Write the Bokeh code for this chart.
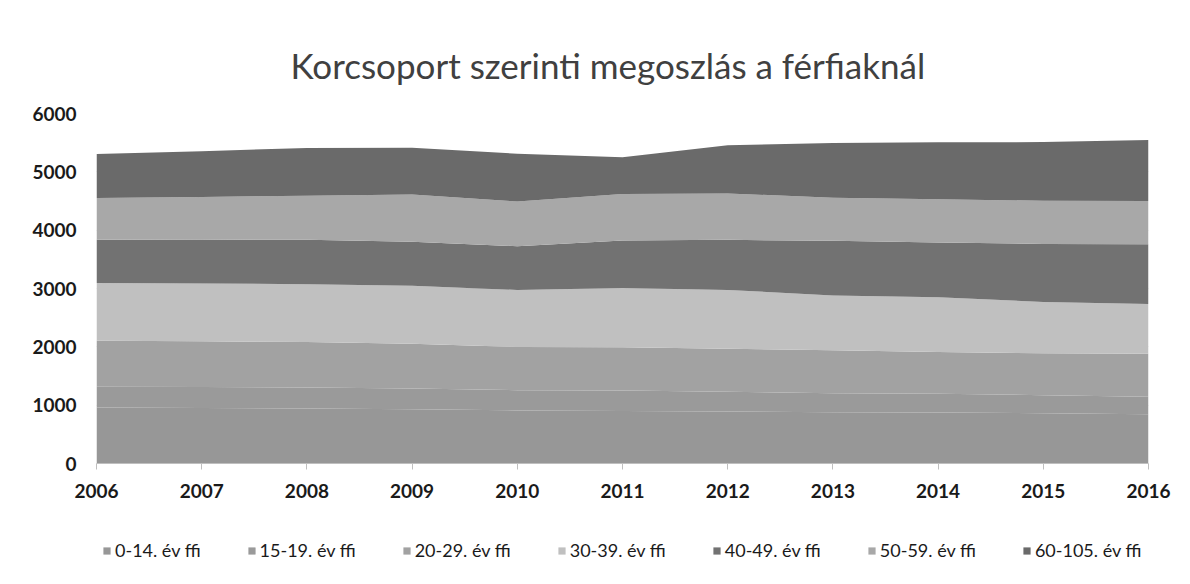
from bokeh.plotting import figure
from bokeh.layouts import column
from bokeh.models import ColumnDataSource, Legend, LegendItem, FixedTicker, Range1d, Label
from bokeh.embed import file_html
from bokeh.resources import INLINE

years = [2006, 2007, 2008, 2009, 2010, 2011, 2012, 2013, 2014, 2015, 2016]
y_ticks = [0, 1000, 2000, 3000, 4000, 5000, 6000]

title_text = "Korcsoport szerinti megoszlás a férfiaknál"
series_names = ["0-14. év ffi", "15-19. év ffi", "20-29. év ffi", "30-39. év ffi",
                "40-49. év ffi", "50-59. év ffi", "60-105. év ffi"]

age_0_14 = [960, 950, 945, 930, 910, 900, 890, 878, 875, 860, 845]
age_15_19 = [354, 360, 360, 355, 347, 350, 339, 327, 320, 312, 298]
age_20_29 = [791, 785, 777, 770, 740, 745, 739, 735, 716, 718, 739]
age_30_39 = [990, 990, 993, 994, 978, 1015, 1007, 940, 939, 880, 853]
age_40_49 = [740, 755, 760, 751, 750, 815, 860, 937, 940, 995, 1025]
age_50_59 = [715, 730, 755, 813, 765, 795, 795, 739, 738, 740, 740]
age_60_105 = [755, 785, 820, 802, 820, 630, 825, 939, 979, 1005, 1045]

colors = ["#979797", "#9a9a9a", "#a2a2a2", "#c0c0c0", "#727272", "#a8a8a8", "#6a6a6a"]

keys = ["a0", "a1", "a2", "a3", "a4", "a5", "a6"]
data = {"year": years}
for k, vals in zip(keys, [age_0_14, age_15_19, age_20_29, age_30_39,
                          age_40_49, age_50_59, age_60_105]):
    data[k] = vals
src = ColumnDataSource(data)

# ---------------- title strip ----------------
pt = figure(width=1190, height=100, x_range=Range1d(96, 1148), y_range=Range1d(100, 0),
            output_backend="svg", toolbar_location=None,
            x_axis_type=None, y_axis_type=None,
            min_border_left=0, min_border_right=0, min_border_top=0, min_border_bottom=0)
pt.outline_line_color = None
pt.xgrid.visible = False
pt.ygrid.visible = False
pt.add_layout(Label(x=290, y=64, text=title_text, text_align="left",
                    text_baseline="alphabetic", text_font="Lato",
                    text_font_size="35px", text_color="#404040"))

# ---------------- main chart ----------------
p = figure(width=1190, height=420, x_range=Range1d(2006, 2016), y_range=Range1d(0, 6000),
           output_backend="svg", toolbar_location=None,
           min_border_left=96, min_border_right=42, min_border_top=13, min_border_bottom=57)
p.outline_line_color = None
p.background_fill_color = "white"
p.border_fill_color = "white"

p.varea_stack(stackers=keys, x="year", color=colors, source=src)

# grid
p.xgrid.visible = False
p.ygrid.ticker = FixedTicker(ticks=y_ticks)
p.ygrid.grid_line_color = "#d9d9d9"
p.ygrid.grid_line_width = 1

# y axis
p.yaxis.ticker = FixedTicker(ticks=y_ticks)
p.yaxis.axis_line_color = None
p.yaxis.major_tick_line_color = None
p.yaxis.major_tick_out = 0
p.yaxis.major_tick_in = 0
p.yaxis.minor_tick_line_color = None
p.yaxis.major_label_standoff = 20
p.yaxis.major_label_text_font = "Lato"
p.yaxis.major_label_text_font_style = "bold"
p.yaxis.major_label_text_font_size = "19px"
p.yaxis.major_label_text_color = "#1a1a1a"

# x axis
p.xaxis.ticker = FixedTicker(ticks=years)
p.xaxis.axis_line_color = "#bfbfbf"
p.xaxis.major_tick_line_color = "#bfbfbf"
p.xaxis.major_tick_out = 6
p.xaxis.major_tick_in = 0
p.xaxis.minor_tick_line_color = None
p.xaxis.major_label_standoff = 14
p.xaxis.major_label_text_font = "Lato"
p.xaxis.major_label_text_font_style = "bold"
p.xaxis.major_label_text_font_size = "19px"
p.xaxis.major_label_text_color = "#1a1a1a"

# ---------------- legend strip ----------------
pl = figure(width=1190, height=64, x_range=Range1d(0, 1), y_range=Range1d(-2, -1),
            output_backend="svg", toolbar_location=None,
            x_axis_type=None, y_axis_type=None,
            min_border_left=0, min_border_right=0, min_border_top=0, min_border_bottom=0)
pl.outline_line_color = None
pl.xgrid.visible = False
pl.ygrid.visible = False
leg_renderers = pl.varea_stack(stackers=keys, x="year", color=colors, source=src)

items = [LegendItem(label=n, renderers=[r]) for n, r in zip(series_names, leg_renderers)]
legend = Legend(items=items, orientation="horizontal", location=(6, 23),
                glyph_width=9, glyph_height=9, label_standoff=4, spacing=46,
                label_text_font="Lato", label_text_font_size="18px",
                label_text_color="#1a1a1a", background_fill_alpha=0,
                border_line_color=None, padding=0, margin=0)
pl.add_layout(legend, "center")

layout = column(pt, p, pl, spacing=0)
open("out.html", "w").write(file_html(layout, INLINE))
